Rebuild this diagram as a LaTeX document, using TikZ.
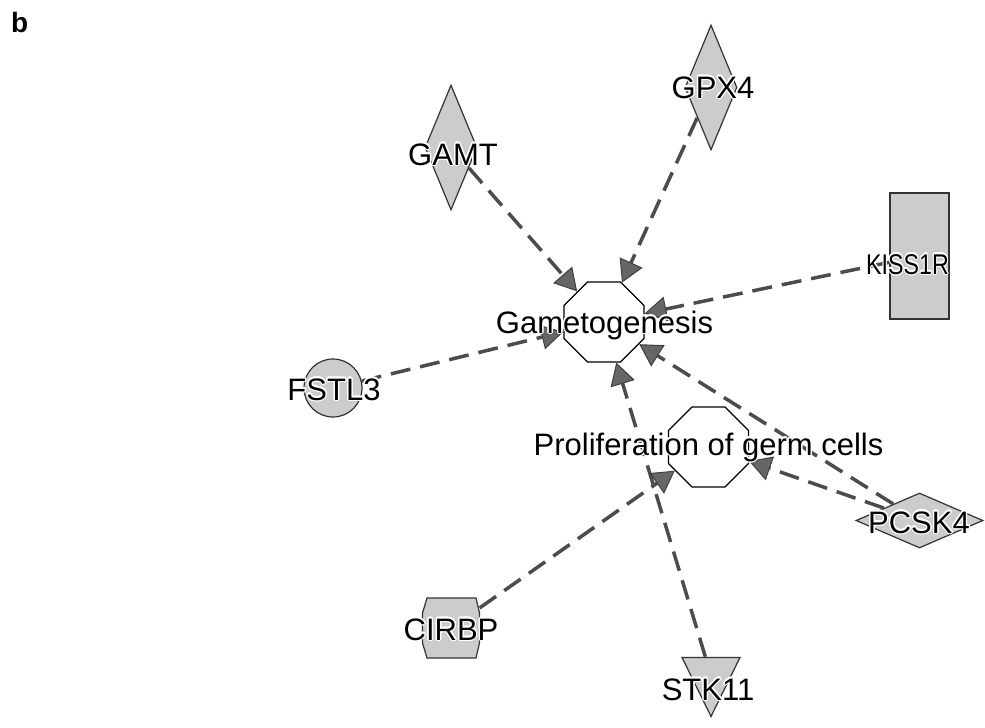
\documentclass[tikz,border=0pt]{standalone}
\usepackage{fontspec}
\setmainfont{Liberation Sans}
\usepackage{graphicx}
\usepackage{contour}
\contourlength{1.3pt}
\usetikzlibrary{shapes.geometric,arrows.meta}
\newcommand\halo[1]{\contour{white}{#1}}
\begin{document}
\begin{tikzpicture}[x=1pt,y=-1pt,
  mol/.style={draw=black!80, fill=black!20, line width=1.2pt, inner sep=0pt},
  fun/.style={regular polygon, regular polygon sides=8, minimum size=86.6pt, draw=black, fill=white, line width=1.2pt, inner sep=0pt},
  lbl/.style={anchor=base, inner sep=0pt, font=\fontsize{31}{31}\selectfont, text=black},
  rel/.style={draw=black!70, line width=3.5pt, dash pattern=on 20pt off 10pt,
    -{Triangle[length=22pt,width=25pt,fill=black!60,color=black!75,line width=1pt]}}
]
\useasboundingbox (0,0) rectangle (985,728);
\fill[white] (0,0) rectangle (985,728);

% molecules and functions
\node[mol, diamond, minimum width=52pt, minimum height=125pt] (gamt) at (451,147.5) {};
\node[mol, diamond, minimum width=52pt, minimum height=125pt] (gpx4) at (711,87.5) {};
\node[mol, rectangle, minimum width=59pt, minimum height=126pt] (kiss) at (919.5,256) {};
\node[fun] (game) at (604,322) {};
\node[fun] (prol) at (708.5,447) {};
\node[mol, circle, minimum size=58pt] (fstl) at (333,388) {};
\node[mol, diamond, minimum width=127pt, minimum height=55pt] (pcsk) at (919.5,520.5) {};
\node[minimum width=57pt, minimum height=60pt, inner sep=0pt] (cirbp) at (451,628) {};
\draw[mol] (427,598) -- (476,598) -- (479.5,613) -- (479.5,643) -- (476,658) -- (427,658) -- (422.5,643) -- (422.5,613) -- cycle;
\node[mol, isosceles triangle, isosceles triangle stretches, shape border rotate=270,
      minimum width=58pt, minimum height=59pt, anchor=apex] (stk) at (711,718) {};

% relations
\draw[rel] (gamt) -- (game);
\draw[rel] (gpx4) -- (game);
\draw[rel] (kiss) -- (game);
\draw[rel] (fstl) -- (game);
\draw[rel] (pcsk) -- (game);
\draw[rel] (stk) -- (game);
\draw[rel] (pcsk) -- (prol);
\draw[rel] (cirbp) -- (prol);

% labels
\node[lbl] (tgamt) at (453,165) {\halo{GAMT}};
\node[lbl] (tgpx4) at (713,98) {\halo{GPX4}};
\node[lbl] (tkiss) at (907.5,274) {\scalebox{0.75}[0.92]{\halo{KISS1R}}};
\node[lbl] (tgame) at (604.5,333) {\halo{Gametogenesis}};
\node[lbl] (tprol) at (708.5,455) {\halo{Proliferation of germ cells}};
\node[lbl] (tfstl) at (334,400) {\halo{FSTL3}};
\node[lbl] (tpcsk) at (919,533) {\halo{PCSK4}};
\node[lbl] (tcirbp) at (451,640) {\halo{CIRBP}};
\node[lbl] (tstk) at (708,700) {\halo{STK11}};
\node[anchor=base west, inner sep=0pt, font=\fontsize{28}{28}\selectfont\bfseries] (panel) at (11,32) {b};
\end{tikzpicture}
\end{document}
